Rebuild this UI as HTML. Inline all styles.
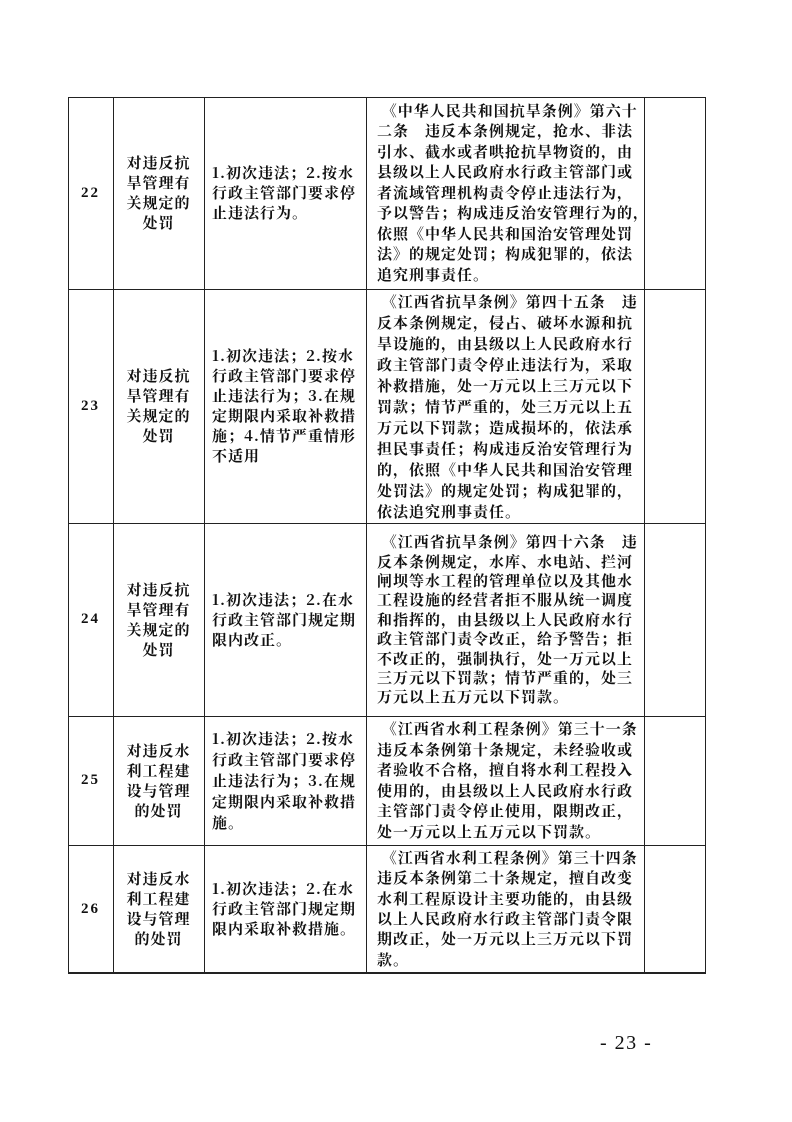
<!DOCTYPE html>
<html><head><meta charset="utf-8"><style>
html,body{margin:0;padding:0;background:#fff;}
body{width:792px;height:1122px;position:relative;overflow:hidden;font-family:"Noto Serif CJK SC","Liberation Serif",serif;font-weight:bold;color:#111;}
.h{position:absolute;height:1.3px;background:#222;left:68px;width:638px;}
.v{position:absolute;width:1.3px;background:#222;top:97px;height:877px;}
.c{position:absolute;display:flex;align-items:center;font-size:15px;letter-spacing:1px;white-space:nowrap;}
.n{justify-content:center;font-size:15px;letter-spacing:2px;font-family:"Liberation Serif",serif;}
.m{justify-content:center;text-align:center;line-height:20px;}
.t{line-height:20px;}
.p{position:absolute;font-weight:normal;font-size:20px;left:600px;top:1032px;letter-spacing:1.5px;font-family:"Liberation Serif",serif;}
</style></head><body>
<div class="h" style="top:97px"></div>
<div class="h" style="top:289px"></div>
<div class="h" style="top:523px"></div>
<div class="h" style="top:716px"></div>
<div class="h" style="top:845px"></div>
<div class="h" style="top:972px;height:2px"></div>
<div class="v" style="left:68px"></div>
<div class="v" style="left:113px"></div>
<div class="v" style="left:204px"></div>
<div class="v" style="left:366px"></div>
<div class="v" style="left:644px"></div>
<div class="v" style="left:705px"></div>

<!-- row 22 -->
<div class="c n" style="left:68px;top:97px;width:45px;height:192px">22</div>
<div class="c m" style="left:113px;top:97px;width:91px;height:192px">对违反抗<br>旱管理有<br>关规定的<br>处罚</div>
<div class="c t" style="left:212px;top:97px;width:152px;height:192px">1.初次违法；2.按水<br>行政主管部门要求停<br>止违法行为。</div>
<div class="c t" style="left:377px;top:97px;width:266px;height:192px;line-height:20.5px">&nbsp;《中华人民共和国抗旱条例》第六十<br>二条　违反本条例规定，抢水、非法<br>引水、截水或者哄抢抗旱物资的，由<br>县级以上人民政府水行政主管部门或<br>者流域管理机构责令停止违法行为，<br>予以警告；构成违反治安管理行为的，<br>依照《中华人民共和国治安管理处罚<br>法》的规定处罚；构成犯罪的，依法<br>追究刑事责任。</div>

<!-- row 23 -->
<div class="c n" style="left:68px;top:289px;width:45px;height:234px">23</div>
<div class="c m" style="left:113px;top:289px;width:91px;height:234px">对违反抗<br>旱管理有<br>关规定的<br>处罚</div>
<div class="c t" style="left:212px;top:289px;width:152px;height:234px">1.初次违法；2.按水<br>行政主管部门要求停<br>止违法行为；3.在规<br>定期限内采取补救措<br>施；4.情节严重情形<br>不适用</div>
<div class="c t" style="left:377px;top:289px;width:266px;height:234px;line-height:21px">&nbsp;《江西省抗旱条例》第四十五条　违<br>反本条例规定，侵占、破坏水源和抗<br>旱设施的，由县级以上人民政府水行<br>政主管部门责令停止违法行为，采取<br>补救措施，处一万元以上三万元以下<br>罚款；情节严重的，处三万元以上五<br>万元以下罚款；造成损坏的，依法承<br>担民事责任；构成违反治安管理行为<br>的，依照《中华人民共和国治安管理<br>处罚法》的规定处罚；构成犯罪的，<br>依法追究刑事责任。</div>

<!-- row 24 -->
<div class="c n" style="left:68px;top:523px;width:45px;height:193px">24</div>
<div class="c m" style="left:113px;top:523px;width:91px;height:193px">对违反抗<br>旱管理有<br>关规定的<br>处罚</div>
<div class="c t" style="left:212px;top:523px;width:152px;height:193px">1.初次违法；2.在水<br>行政主管部门规定期<br>限内改正。</div>
<div class="c t" style="left:377px;top:523px;width:266px;height:193px;line-height:19.4px">&nbsp;《江西省抗旱条例》第四十六条　违<br>反本条例规定，水库、水电站、拦河<br>闸坝等水工程的管理单位以及其他水<br>工程设施的经营者拒不服从统一调度<br>和指挥的，由县级以上人民政府水行<br>政主管部门责令改正，给予警告；拒<br>不改正的，强制执行，处一万元以上<br>三万元以下罚款；情节严重的，处三<br>万元以上五万元以下罚款。</div>

<!-- row 25 -->
<div class="c n" style="left:68px;top:716px;width:45px;height:129px">25</div>
<div class="c m" style="left:113px;top:716px;width:91px;height:129px">对违反水<br>利工程建<br>设与管理<br>的处罚</div>
<div class="c t" style="left:212px;top:716px;width:152px;height:129px;line-height:21px">1.初次违法；2.按水<br>行政主管部门要求停<br>止违法行为；3.在规<br>定期限内采取补救措<br>施。</div>
<div class="c t" style="left:377px;top:716px;width:266px;height:129px;line-height:20.5px">&nbsp;《江西省水利工程条例》第三十一条<br>违反本条例第十条规定，未经验收或<br>者验收不合格，擅自将水利工程投入<br>使用的，由县级以上人民政府水行政<br>主管部门责令停止使用，限期改正，<br>处一万元以上五万元以下罚款。</div>

<!-- row 26 -->
<div class="c n" style="left:68px;top:845px;width:45px;height:128px">26</div>
<div class="c m" style="left:113px;top:845px;width:91px;height:128px">对违反水<br>利工程建<br>设与管理<br>的处罚</div>
<div class="c t" style="left:212px;top:845px;width:152px;height:128px">1.初次违法；2.在水<br>行政主管部门规定期<br>限内采取补救措施。</div>
<div class="c t" style="left:377px;top:845px;width:266px;height:128px;line-height:20.3px">&nbsp;《江西省水利工程条例》第三十四条<br>违反本条例第二十条规定，擅自改变<br>水利工程原设计主要功能的，由县级<br>以上人民政府水行政主管部门责令限<br>期改正，处一万元以上三万元以下罚<br>款。</div>

<div class="p">- 23 -</div>
</body></html>
